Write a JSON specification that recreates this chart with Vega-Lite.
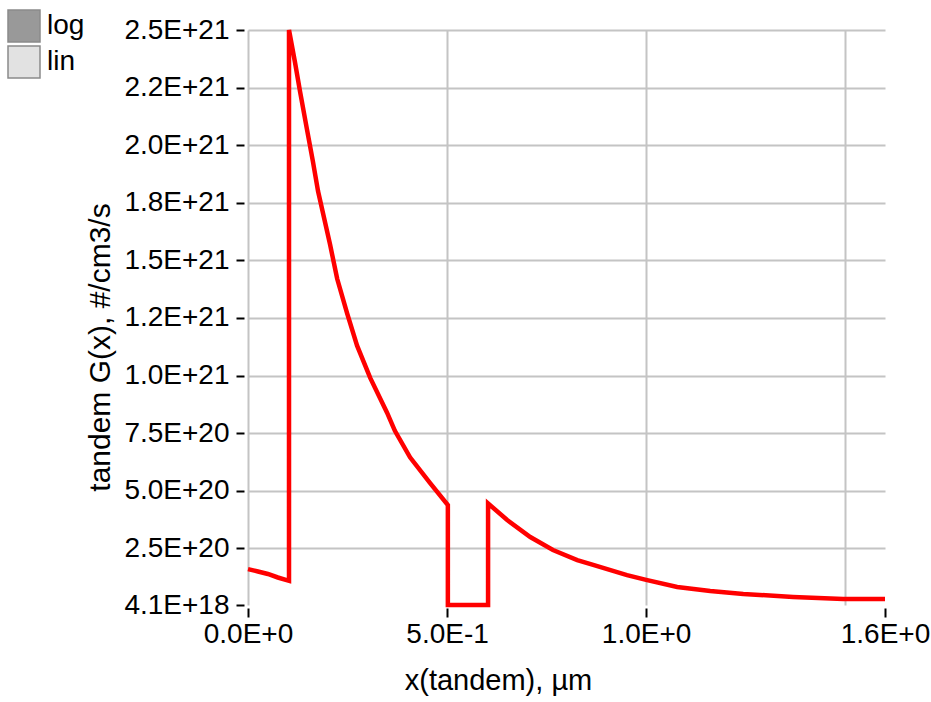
{
  "$schema": "https://vega.github.io/schema/vega-lite/v6.json",
  "width": 637,
  "height": 575,
  "autosize": {"type": "none"},
  "padding": {"left": 248, "top": 30, "right": 46, "bottom": 97},
  "background": "white",
  "config": {"view": {"stroke": null}, "font": "Liberation Sans"},
  "layer": [
    {
      "data": {"values": [
        {"i": 0, "x": 0, "g": 1.60e20},
        {"i": 1, "x": 0.025, "g": 1.495e20},
        {"i": 2, "x": 0.05, "g": 1.387e20},
        {"i": 3, "x": 0.075, "g": 1.235e20},
        {"i": 4, "x": 0.103, "g": 1.09e20},
        {"i": 5, "x": 0.103, "g": 2.50e21},
        {"i": 6, "x": 0.118, "g": 2.36e21},
        {"i": 7, "x": 0.131, "g": 2.23e21},
        {"i": 8, "x": 0.148, "g": 2.07e21},
        {"i": 9, "x": 0.163, "g": 1.93e21},
        {"i": 10, "x": 0.176, "g": 1.80e21},
        {"i": 11, "x": 0.206, "g": 1.57e21},
        {"i": 12, "x": 0.224, "g": 1.42e21},
        {"i": 13, "x": 0.249, "g": 1.27e21},
        {"i": 14, "x": 0.274, "g": 1.13e21},
        {"i": 15, "x": 0.307, "g": 9.9e20},
        {"i": 16, "x": 0.349, "g": 8.4e20},
        {"i": 17, "x": 0.369, "g": 7.6e20},
        {"i": 18, "x": 0.407, "g": 6.45e20},
        {"i": 19, "x": 0.457, "g": 5.34e20},
        {"i": 20, "x": 0.502, "g": 4.38e20},
        {"i": 21, "x": 0.502, "g": 4.1e18},
        {"i": 22, "x": 0.603, "g": 4.1e18},
        {"i": 23, "x": 0.603, "g": 4.45e20},
        {"i": 24, "x": 0.651, "g": 3.73e20},
        {"i": 25, "x": 0.709, "g": 2.99e20},
        {"i": 26, "x": 0.766, "g": 2.43e20},
        {"i": 27, "x": 0.827, "g": 1.99e20},
        {"i": 28, "x": 0.867, "g": 1.78e20},
        {"i": 29, "x": 0.952, "g": 1.34e20},
        {"i": 30, "x": 1.0, "g": 1.13e20},
        {"i": 31, "x": 1.078, "g": 8.2e19},
        {"i": 32, "x": 1.161, "g": 6.5e19},
        {"i": 33, "x": 1.244, "g": 5.2e19},
        {"i": 34, "x": 1.369, "g": 3.9e19},
        {"i": 35, "x": 1.495, "g": 3.0e19},
        {"i": 36, "x": 1.6, "g": 3.0e19}
      ]},
      "mark": {"type": "line", "color": "#ff0000", "strokeWidth": 4.5, "strokeJoin": "miter"},
      "encoding": {
        "x": {
          "field": "x", "type": "quantitative",
          "scale": {"domain": [0, 1.6], "nice": false, "zero": false},
          "axis": {
            "values": [0, 0.5, 1, 1.5, 1.6],
            "labelExpr": "datum.value == 0 ? '0.0E+0' : datum.value == 0.5 ? '5.0E-1' : datum.value == 1 ? '1.0E+0' : datum.value > 1.55 ? '1.6E+0' : ''",
            "grid": true,
            "gridColor": {"condition": {"test": "datum.value > 1.55", "value": "transparent"}, "value": "#c4c4c4"},
            "gridWidth": 2,
            "tickColor": {"condition": {"test": "datum.value == 1.5", "value": "transparent"}, "value": "#000000"},
            "tickSize": 9,
            "tickWidth": 2,
            "offset": 3,
            "domain": false,
            "labelFontSize": 28,
            "labelFont": "Liberation Sans",
            "labelColor": "#000000",
            "labelPadding": 3,
            "labelFlush": false,
            "labelOverlap": false,
            "title": "x(tandem), µm",
            "titleFont": "Liberation Sans",
            "titleFontSize": 29,
            "titleFontWeight": "normal",
            "titleColor": "#000000",
            "titleX": 250,
            "titleY": 81,
            "titleAlign": "center",
            "titleBaseline": "alphabetic"
          }
        },
        "y": {
          "field": "g", "type": "quantitative",
          "scale": {"domain": [4.1e18, 2.5e21], "nice": false, "zero": false},
          "axis": {
            "values": [4.1e18, 2.5e20, 5e20, 7.5e20, 1e21, 1.25e21, 1.5e21, 1.75e21, 2e21, 2.25e21, 2.5e21],
            "labelExpr": "['4.1E+18','2.5E+20','5.0E+20','7.5E+20','1.0E+21','1.2E+21','1.5E+21','1.8E+21','2.0E+21','2.2E+21','2.5E+21'][round(datum.value/2.5e20)]",
            "grid": true,
            "gridColor": {"condition": {"test": "datum.value < 1e19", "value": "transparent"}, "value": "#c4c4c4"},
            "gridWidth": 2,
            "tickColor": "#000000",
            "tickSize": 8,
            "tickWidth": 2,
            "offset": 4,
            "domain": false,
            "labelFontSize": 28,
            "labelFont": "Liberation Sans",
            "labelColor": "#000000",
            "labelPadding": 7,
            "labelOverlap": false,
            "labelFlush": false,
            "title": "tandem G(x), #/cm3/s",
            "titleFont": "Liberation Sans",
            "titleFontSize": 30,
            "titleFontWeight": "normal",
            "titleColor": "#000000",
            "titleAngle": -90,
            "titleX": -144,
            "titleY": 317,
            "titleAlign": "center",
            "titleBaseline": "middle"
          }
        },
        "order": {"field": "i", "type": "quantitative"}
      }
    },
    {
      "data": {"values": [{"mode": "log"}, {"mode": "lin"}]},
      "mark": {"type": "point", "opacity": 0, "filled": true},
      "encoding": {
        "color": {
          "field": "mode", "type": "nominal",
          "scale": {"domain": ["log", "lin"], "range": ["#999999", "#e2e2e2"]},
          "legend": {
            "orient": "none",
            "legendX": -241,
            "legendY": -21,
            "title": null,
            "symbolType": "square",
            "symbolSize": 1024,
            "symbolOpacity": 1,
            "symbolStrokeColor": "#8a8a8a",
            "symbolStrokeWidth": 1.5,
            "labelFontSize": 28,
            "labelFont": "Liberation Sans",
            "labelColor": "#000000",
            "labelOffset": 6,
            "rowPadding": -3
          }
        }
      }
    }
  ]
}
